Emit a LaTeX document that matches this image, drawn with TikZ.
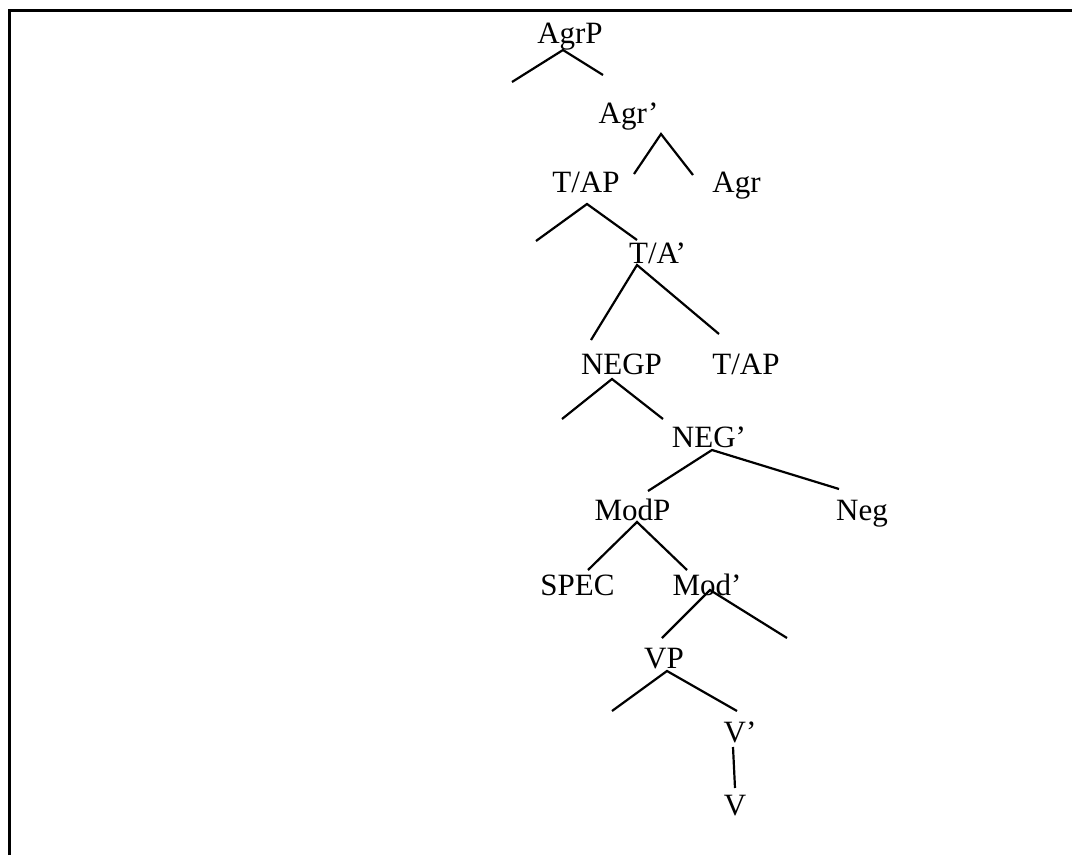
\documentclass[tikz,border=0pt]{standalone}
\usepackage{fontspec}
\setmainfont{Liberation Serif}
\begin{document}
\begin{tikzpicture}[x=1pt,y=-1pt,
  lbl/.style={anchor=base,inner sep=0pt,font=\fontsize{31}{33}\selectfont},
  branch/.style={line width=2.2pt},
  frame/.style={line width=3pt}]
\useasboundingbox (0,0) rectangle (1072,855);
% open frame: left edge and top edge
\draw[frame] (9,855) -- (9,10) -- (1072,10);

% category labels
\node[lbl] (agrp)  at (570,43)   {AgrP};
\node[lbl] (agrb)  at (628.5,123){Agr’};
\node[lbl] (tap1)  at (586,192)  {T/AP};
\node[lbl] (agr)   at (736.5,192){Agr};
\node[lbl] (tab)   at (657.5,263){T/A’};
\node[lbl] (negp)  at (621.5,374){NEGP};
\node[lbl] (tap2)  at (746,374)  {T/AP};
\node[lbl] (negb)  at (709,447)  {NEG’};
\node[lbl] (modp)  at (632.5,520){ModP};
\node[lbl] (neg)   at (862,520)  {Neg};
\node[lbl] (spec)  at (577.5,595){SPEC};
\node[lbl] (modb)  at (707,595)  {Mod’};
\node[lbl] (vp)    at (664,668)  {VP};
\node[lbl] (vb)    at (740,742)  {V’};
\node[lbl] (v)     at (735,815)  {V};

% branch end points
\coordinate (agrp-t) at (563,50);
\coordinate (agrp-l) at (512,82);
\coordinate (agrp-r) at (603,75);
\coordinate (agrb-t) at (661,134);
\coordinate (agrb-l) at (634,174);
\coordinate (agrb-r) at (693,175);
\coordinate (tap1-t) at (587,204);
\coordinate (tap1-l) at (536,241);
\coordinate (tap1-r) at (637,240);
\coordinate (tab-t)  at (637,265);
\coordinate (tab-l)  at (591,340);
\coordinate (tab-r)  at (719,334);
\coordinate (negp-t) at (612,379);
\coordinate (negp-l) at (562,419);
\coordinate (negp-r) at (663,419);
\coordinate (negb-t) at (712,450);
\coordinate (negb-l) at (648,491);
\coordinate (negb-r) at (839,489);
\coordinate (modp-t) at (637,522);
\coordinate (modp-l) at (588,570);
\coordinate (modp-r) at (687,570);
\coordinate (modb-t) at (710,590);
\coordinate (modb-l) at (662,638);
\coordinate (modb-r) at (787,638);
\coordinate (vp-t)   at (667,671);
\coordinate (vp-l)   at (612,711);
\coordinate (vp-r)   at (737,711);
\coordinate (vb-b)   at (733,747);
\coordinate (v-t)    at (735,788);

% branches
\draw[branch] (agrp-l) -- (agrp-t) -- (agrp-r);
\draw[branch] (agrb-l) -- (agrb-t) -- (agrb-r);
\draw[branch] (tap1-l) -- (tap1-t) -- (tap1-r);
\draw[branch] (tab-l) -- (tab-t) -- (tab-r);
\draw[branch] (negp-l) -- (negp-t) -- (negp-r);
\draw[branch] (negb-l) -- (negb-t) -- (negb-r);
\draw[branch] (modp-l) -- (modp-t) -- (modp-r);
\draw[branch] (modb-l) -- (modb-t) -- (modb-r);
\draw[branch] (vp-l) -- (vp-t) -- (vp-r);
\draw[branch] (vb-b) -- (v-t);
\end{tikzpicture}
\end{document}
